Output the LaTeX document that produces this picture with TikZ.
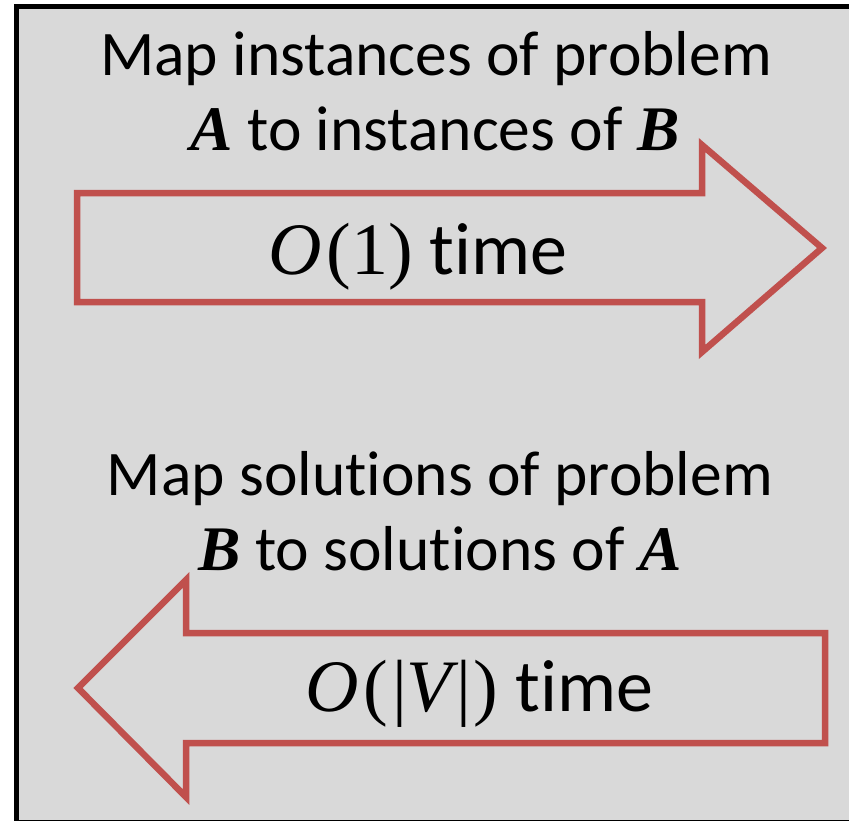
\documentclass[tikz,border=0pt]{standalone}
\usepackage{fontspec}
\setmainfont{Carlito}[Ligatures=NoCommon]
\newfontfamily\cambria{Liberation Serif}
\usetikzlibrary{positioning}
\usepackage{xcolor}
\definecolor{slidegray}{HTML}{D9D9D9}
\definecolor{arrowred}{HTML}{C0504D}
\newcommand{\mvar}[1]{{\cambria\itshape #1}}
\newcommand{\bvar}[1]{{\cambria\bfseries\itshape #1}}
\newcommand{\mtxt}[1]{{\cambria #1}}

\begin{document}
\begin{tikzpicture}[x=1pt,y=-1pt,font=\fontsize{63.5}{74}\selectfont,
    redarrow/.style={draw=arrowred,line width=6.5pt},
    caption/.style={anchor=base,inner sep=0pt},
    timelabel/.style={caption,font=\fontsize{74}{80}\selectfont}]
        \useasboundingbox (0,0) rectangle (849,820);
        \draw[fill=slidegray,line width=5pt] (16.5,6.5) rectangle (900,822);
        % forward: instances of A to instances of B
        \node[caption] (instA1) at (436,75) {Map instances of problem};
        \node[caption] (instA2) at (435,150) {\bvar{A} to instances of \bvar{B}};
        \draw[redarrow] (77,193) -- (702,193) -- (702,145) -- (822,248) -- (702,352) -- (702,302) -- (77,302) -- cycle;
        \node[timelabel] (timeA) at (418,274) {\mvar{O}\kern5pt\mtxt{(1)} time};
        % backward: solutions of B to solutions of A
        \node[caption] (solB1) at (440,495) {Map solutions of problem};
        \node[caption] (solB2) at (440,570) {\bvar{B} to solutions of \bvar{A}};
        \draw[redarrow] (825,633) -- (186,633) -- (186,580) -- (78,688) -- (186,797) -- (186,743) -- (825,743) -- cycle;
        \node[timelabel] (timeB) at (479,711) {\mvar{O}\kern5pt\mtxt{(\kern4pt|}\mvar{V}\kern4pt\mtxt{|\kern3pt)} time};
      \end{tikzpicture}
\end{document}
